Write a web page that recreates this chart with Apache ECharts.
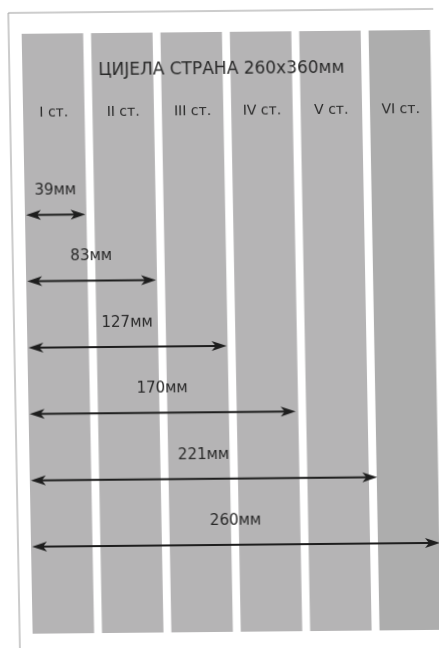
<!DOCTYPE html>
<html>
<head>
<meta charset="utf-8">
<script src="https://cdn.jsdelivr.net/npm/echarts@6/dist/echarts.min.js"></script>
<style>
html,body{margin:0;padding:0;background:#fff;overflow:hidden;}
#c{width:439px;height:648px;transform:matrix(1,-0.0095,0.0183,1,0,0);transform-origin:50% 50%;}
</style>
</head>
<body>
<div id="c"></div>
<script>
// Data
var pageTitle = 'ЦИЈЕЛА СТРАНА 260x360мм';
var columnLabels = ['I ст.', 'II ст.', 'III ст.', 'IV ст.', 'V ст.', 'VI ст.'];
var columnStarts = [0, 44, 88, 132, 176, 220];   // mm
var columnEnds   = [39, 83, 127, 171, 215, 259];  // mm
var spanWidths = [39, 83, 127, 170, 221, 260];    // mm
var spanLabels = ['39мм', '83мм', '127мм', '170мм', '221мм', '260мм'];
var spanRows = [0, 1, 2, 3, 4, 5];

var FONT = 'DejaVu Sans';
var chart = echarts.init(document.getElementById('c'), null, {renderer: 'canvas'});

var colData = columnStarts.map(function (s, i) { return [s, columnEnds[i], i]; });
var arrowData = spanWidths.map(function (w, i) { return [w, spanRows[i], i]; });

chart.setOption({
  backgroundColor: '#ffffff',
  animation: false,
  grid: {left: 27, right: 2, top: 32, bottom: 16},
  xAxis: {type: 'value', min: 0, max: 260, show: false},
  yAxis: {type: 'value', min: -2.73, max: 6.31, inverse: true, show: false},
  graphic: [
    {type: 'polyline', shape: {points: [[14, 660], [14, 11], [445, 11]]},
     style: {stroke: '#9a9a9a', lineWidth: 1, fill: null}, z: 10},
    {type: 'text', x: 226, y: 70,
     style: {text: pageTitle, font: '17px "' + FONT + '"', fill: '#2a2a2a',
             textAlign: 'center', textVerticalAlign: 'middle'}, z: 20}
  ],
  series: [
    {
      type: 'custom',
      coordinateSystem: 'cartesian2d',
      data: colData,
      encode: {x: [0, 1]},
      z: 1,
      renderItem: function (params, api) {
        var cs = params.coordSys;
        var a = api.coord([api.value(0), 0]);
        var b = api.coord([api.value(1), 0]);
        var idx = api.value(2);
        var x1 = a[0], x2 = b[0];
        return {
          type: 'group',
          children: [
            {type: 'rect', shape: {x: x1, y: cs.y, width: x2 - x1, height: cs.height},
             style: {fill: idx === 5 ? '#adadad' : '#b5b4b5'}},
            {type: 'text', x: (x1 + x2) / 2, y: cs.y + 79,
             style: {text: columnLabels[idx], font: '14px "' + FONT + '"', fill: '#2a2a2a',
                     textAlign: 'center', textVerticalAlign: 'middle'}}
          ]
        };
      }
    },
    {
      type: 'custom',
      coordinateSystem: 'cartesian2d',
      data: arrowData,
      encode: {x: 0, y: 1},
      z: 5,
      renderItem: function (params, api) {
        var p0 = api.coord([0, api.value(1)]);
        var p1 = api.coord([api.value(0), api.value(1)]);
        var idx = api.value(2);
        var L = 15, H = 5;
        var y = p0[1];
        var xs = p0[0] + 1, xe = p1[0] - 1;
        return {
          type: 'group',
          children: [
            {type: 'line', shape: {x1: xs + 6, y1: y, x2: xe - 6, y2: y},
             style: {stroke: '#1e1e1e', lineWidth: 2}},
            {type: 'polygon', shape: {points: [[xs, y], [xs + L, y - H], [xs + L - 4, y], [xs + L, y + H]]},
             style: {fill: '#1e1e1e'}},
            {type: 'polygon', shape: {points: [[xe, y], [xe - L, y - H], [xe - L + 4, y], [xe - L, y + H]]},
             style: {fill: '#1e1e1e'}},
            {type: 'text', x: (xs + xe) / 2, y: y - 24,
             style: {text: spanLabels[idx], font: '15px "' + FONT + '"', fill: '#2a2a2a',
                     textAlign: 'center', textVerticalAlign: 'middle'}}
          ]
        };
      }
    }
  ]
});
</script>
</body>
</html>
